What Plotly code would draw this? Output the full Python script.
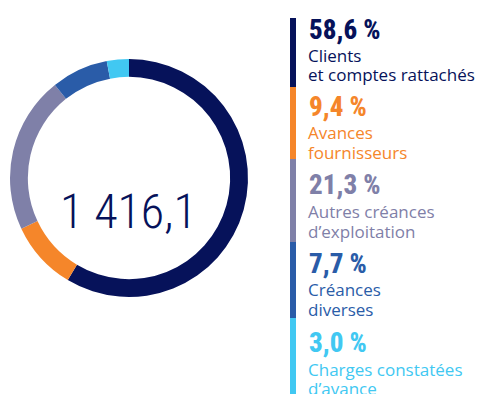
import plotly.graph_objects as go

# Breakdown of receivables (share in %)
categories = [
    "Clients et comptes rattachés",
    "Avances fournisseurs",
    "Autres créances d’exploitation",
    "Créances diverses",
    "Charges constatées d’avance",
]
shares = [58.6, 9.4, 21.3, 7.7, 3.0]
pct_labels = ["58,6 %", "9,4 %", "21,3 %", "7,7 %", "3,0 %"]
label_lines = [
    ["Clients", "et comptes rattachés"],
    ["Avances", "fournisseurs"],
    ["Autres créances", "d’exploitation"],
    ["Créances", "diverses"],
    ["Charges constatées", "d’avance"],
]
total_label = "1 416,1"
colors = ["#06125a", "#f5862a", "#7f80a8", "#2a5ca8", "#41c8f2"]

W, H = 490, 394


def px(x):
    return x / W


def py(y):
    return 1 - y / H


fig = go.Figure()
fig.add_trace(go.Pie(
    labels=categories,
    values=shares,
    hole=0.85,
    sort=False,
    direction="clockwise",
    rotation=0,
    marker=dict(colors=colors, line=dict(width=0)),
    textinfo="none",
    hoverinfo="label+percent",
    domain=dict(x=[px(10), px(248)], y=[py(297), py(59)]),
    showlegend=False,
))

narrow = "Roboto Condensed, Liberation Sans Narrow, Roboto, sans-serif"
body = "Open Sans, sans-serif"

annotations = [dict(
    text=total_label, x=px(128), y=py(212), xref="paper", yref="paper",
    showarrow=False, xanchor="center", yanchor="middle",
    font=dict(family=narrow, size=48, color=colors[0], weight=300),
)]

shapes = []
# legend block boundaries (pixel rows)
block_edges = [18, 87, 159, 242, 318, 394]
pct_centers = [30, 107, 185, 264, 343]
baselines = [(62, 80), (138, 158), (218, 237), (295, 315), (375, 394)]

for i, c in enumerate(colors):
    shapes.append(dict(
        type="rect", xref="paper", yref="paper",
        x0=px(290), x1=px(296), y0=py(block_edges[i + 1]), y1=py(block_edges[i]),
        fillcolor=c, line=dict(width=0), layer="above",
    ))
    annotations.append(dict(
        text=pct_labels[i], x=px(308), y=py(pct_centers[i]),
        xref="paper", yref="paper", showarrow=False,
        xanchor="left", yanchor="middle", borderpad=0,
        font=dict(family=narrow, size=27, color=c, weight=800),
    ))
    for line, base in zip(label_lines[i], baselines[i]):
        annotations.append(dict(
            text=line, x=px(307), y=py(base - 6),
            xref="paper", yref="paper", showarrow=False,
            xanchor="left", yanchor="middle", borderpad=0,
            font=dict(family=body, size=17, color=c),
        ))

fig.update_layout(
    width=W, height=H,
    margin=dict(l=0, r=0, t=0, b=0),
    paper_bgcolor="white",
    plot_bgcolor="white",
    annotations=annotations,
    shapes=shapes,
)

fig.write_html("out.html")
